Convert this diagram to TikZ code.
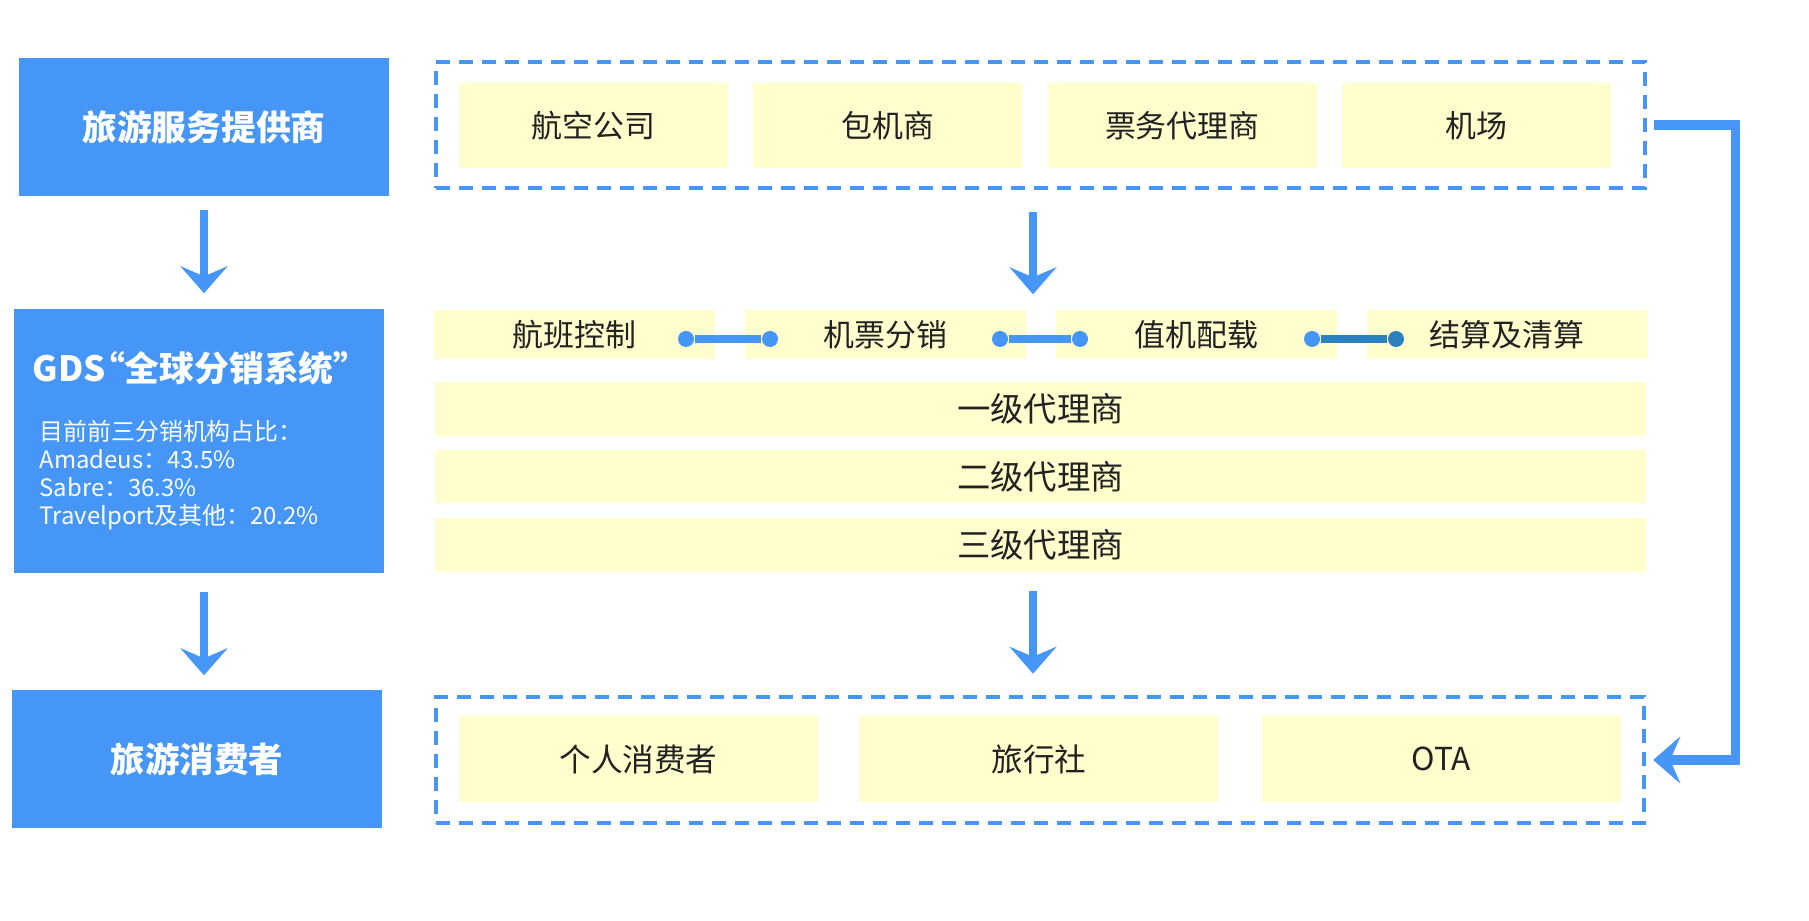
\documentclass[tikz,border=0pt]{standalone}
\usepackage{fontspec}
\setmainfont{Noto Sans CJK SC}
\usetikzlibrary{arrows.meta, positioning}
\definecolor{gdsblue}{RGB}{69,150,247}
\definecolor{darkblue}{RGB}{43,128,192}
\definecolor{paleyellow}{RGB}{255,254,204}
\definecolor{inktext}{RGB}{34,34,34}

\begin{document}
\begin{tikzpicture}[x=0.1mm, y=-0.1mm,
    bluebox/.style={fill=gdsblue, text=white, inner sep=0pt, minimum width=37mm},
    ybox/.style={fill=paleyellow, text=inktext, inner sep=0pt, font=\fontsize{8.8pt}{10pt}\selectfont},
    groupbox/.style={draw=gdsblue, line width=0.45mm, dash pattern=on 1.4mm off 0.9mm, inner sep=0pt},
    flow/.style={draw=gdsblue, line width=0.8mm, -{Stealth[length=2.7mm, width=4.7mm, inset=1mm]}},
    dot/.style={circle, inner sep=0pt, minimum size=1.6mm},
    link/.style={line width=0.8mm}]
    % frame
    \useasboundingbox (0,0) rectangle (1809,921);

    % left column
    \node[bluebox, minimum height=13.8mm, font=\bfseries\fontsize{9.9pt}{12pt}\selectfont] (provider) at (204,127) {旅游服务提供商};
    \node[bluebox, minimum height=26.4mm] (gds) at (199,441) {};
    \node[anchor=west, text=white, inner sep=0pt, font=\bfseries\fontsize{9.9pt}{12pt}\selectfont] (gdstitle) at (32,368) {GDS\kern-0.45em“全球分销系统”};
    \node[anchor=west, align=left, text=white, inner sep=0pt, font=\fontsize{6.8pt}{8pt}\selectfont] (gdsinfo) at (39,475)
        {目前前三分销机构占比：\\Amadeus：43.5\%\\Sabre：36.3\%\\Travelport及其他：20.2\%};
    \node[bluebox, minimum height=13.8mm, font=\bfseries\fontsize{9.8pt}{12pt}\selectfont] (consumer) at (197,759) {旅游消费者};

    \draw[flow, shorten <=1.3mm, shorten >=1.5mm] (provider.south) -- (gds.north -| provider.south);
    \draw[flow, shorten <=1.8mm, shorten >=1.4mm] (gds.south -| provider.south) -- (consumer.north -| provider.south);

    % suppliers
    \node[groupbox, minimum width=120.9mm, minimum height=12.6mm] (supply) at (1040.5,125) {};
    \node[ybox, minimum width=26.9mm, minimum height=8.5mm] (airline) at (593.5,125.5) {航空公司};
    \node[ybox, minimum width=26.9mm, minimum height=8.5mm, right=2.4mm of airline] (charter) {包机商};
    \node[ybox, minimum width=26.9mm, minimum height=8.5mm, right=2.4mm of charter] (ticketing) {票务代理商};
    \node[ybox, minimum width=26.9mm, minimum height=8.5mm, right=2.4mm of ticketing] (airport) {机场};

    % gds functions
    \coordinate (mid) at (1033,0);
    \node[ybox, minimum width=28.1mm, minimum height=4.9mm] (flight) at (574.5,334.5) {航班控制};
    \node[ybox, minimum width=28.1mm, minimum height=4.9mm, right=2.85mm of flight] (sales) {机票分销};
    \node[ybox, minimum width=28.1mm, minimum height=4.9mm, right=2.85mm of sales] (checkin) {值机配载};
    \node[ybox, minimum width=28.1mm, minimum height=4.9mm, right=2.85mm of checkin] (settle) {结算及清算};

    \node[dot, fill=gdsblue] (d1a) at (686,339) {};
    \node[dot, fill=gdsblue] (d1b) at (770,339) {};
    \node[dot, fill=gdsblue] (d2a) at (1000,339) {};
    \node[dot, fill=gdsblue] (d2b) at (1080,339) {};
    \node[dot, fill=gdsblue] (d3a) at (1312,339) {};
    \node[dot, fill=darkblue] (d3b) at (1396,339) {};
    \draw[link, gdsblue] (d1a) -- (d1b);
    \draw[link, gdsblue] (d2a) -- (d2b);
    \draw[link, darkblue] (d3a) -- (d3b);

    \node[ybox, minimum width=121.1mm, minimum height=5.4mm, font=\fontsize{9.5pt}{11pt}\selectfont] (agent1) at (1040.5,409) {一级代理商};
    \node[ybox, minimum width=121.1mm, minimum height=5.3mm, font=\fontsize{9.5pt}{11pt}\selectfont] (agent2) at (1040.5,477) {二级代理商};
    \node[ybox, minimum width=121.1mm, minimum height=5.4mm, font=\fontsize{9.5pt}{11pt}\selectfont] (agent3) at (1040.5,545) {三级代理商};

    % consumers
    \node[groupbox, minimum width=120.8mm, minimum height=12.6mm] (consume) at (1040,760) {};
    \node[ybox, minimum width=35.9mm, minimum height=8.6mm, font=\fontsize{9pt}{11pt}\selectfont] (person) at (638.5,759) {个人消费者};
    \node[ybox, minimum width=35.9mm, minimum height=8.6mm, font=\fontsize{9pt}{11pt}\selectfont, right=4mm of person] (agency) {旅行社};
    \node[ybox, minimum width=35.9mm, minimum height=8.6mm, font=\fontsize{9pt}{11pt}\selectfont, right=4.2mm of agency] (ota) {OTA};

    \draw[flow, shorten <=2.2mm, shorten >=1.5mm] (supply.south -| mid) -- (flight.north -| mid);
    \draw[flow, shorten <=1.8mm, shorten >=2.1mm] (agent3.south -| mid) -- (consume.north -| mid);
    \draw[flow, line width=0.95mm] ([xshift=0.7mm]supply.east) -- ++(81,0) |- ([xshift=0.7mm]consume.east);
\end{tikzpicture}
\end{document}
